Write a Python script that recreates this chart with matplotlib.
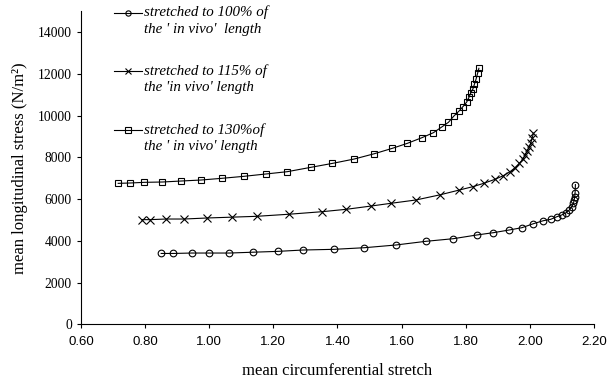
import matplotlib
matplotlib.use("Agg")
import matplotlib.pyplot as plt
from matplotlib.lines import Line2D

# ---- data ----
x100 = [0.85, 0.888, 0.945, 1.000, 1.063, 1.137, 1.214, 1.293, 1.389, 1.484, 1.582, 1.676,
        1.761, 1.834, 1.886, 1.935, 1.975, 2.011, 2.042, 2.065, 2.084, 2.099, 2.113,
        2.123, 2.131, 2.136, 2.138, 2.140, 2.141, 2.142]
y100 = [3400, 3400, 3420, 3420, 3420, 3460, 3500, 3565, 3598, 3675, 3805, 3982,
        4107, 4284, 4395, 4523, 4634, 4826, 4970, 5036, 5160, 5242, 5353,
        5482, 5641, 5802, 5961, 6120, 6312, 6700]

x115 = [0.789, 0.815, 0.865, 0.922, 0.994, 1.072, 1.148, 1.249, 1.351, 1.427, 1.505, 1.566,
        1.644, 1.720, 1.780, 1.822, 1.856, 1.891, 1.917, 1.938, 1.954, 1.967, 1.978,
        1.985, 1.992, 1.998, 2.003, 2.007, 2.011]
y115 = [5020, 5020, 5050, 5050, 5100, 5140, 5180, 5280, 5400, 5515, 5673, 5802,
        5961, 6210, 6440, 6600, 6760, 6952, 7126, 7318, 7510, 7716, 7908,
        8117, 8309, 8514, 8706, 8917, 9157]

x130 = [0.716, 0.753, 0.797, 0.854, 0.912, 0.974, 1.039, 1.108, 1.176, 1.244, 1.316, 1.384,
        1.452, 1.515, 1.571, 1.618, 1.663, 1.699, 1.725, 1.746, 1.763, 1.779, 1.791,
        1.803, 1.810, 1.816, 1.822, 1.827, 1.832, 1.837, 1.841]
y130 = [6760, 6776, 6808, 6824, 6871, 6919, 7000, 7096, 7207, 7320, 7525, 7716,
        7925, 8180, 8438, 8678, 8946, 9186, 9459, 9684, 9986, 10225, 10432,
        10657, 10882, 11107, 11267, 11507, 11747, 12034, 12274]

labels = ["stretched to 100% of\nthe ' in vivo'  length",
          "stretched to 115% of\nthe 'in vivo' length",
          "stretched to 130%of\nthe ' in vivo' length"]
markers = ["o", "x", "s"]

xticks = [0.60, 0.80, 1.00, 1.20, 1.40, 1.60, 1.80, 2.00, 2.20]
yticks = [0, 2000, 4000, 6000, 8000, 10000, 12000, 14000]

# ---- figure ----
W, H = 609, 382
fig = plt.figure(figsize=(W / 100, H / 100), dpi=100)
ax = fig.add_axes([81 / W, 1 - 324.4 / H, (594 - 81) / W, (324.4 - 11.4) / H])

serif = "Liberation Serif"
sans = "Liberation Sans"

series = [(x100, y100), (x115, y115), (x130, y130)]
msizes = [4.8, 5.8, 4.6]
for (xs, ys), m, ms in zip(series, markers, msizes):
    ax.plot(xs, ys, color="black", lw=0.8, marker=m, ms=ms, mfc="none",
            mec="black", mew=0.8)

ax.set_xlim(0.60, 2.20)
ax.set_ylim(0, 15000)
ax.set_xticks(xticks)
ax.set_xticklabels([f"{v:.2f}" for v in xticks], fontfamily=sans, fontsize=9.5)
ax.set_yticks(yticks)
ax.set_yticklabels([str(v) for v in yticks], fontfamily=serif, fontsize=9.8)
ax.tick_params(axis="both", direction="out", length=3, width=0.8, color="black")
ax.tick_params(axis="x", pad=5)
ax.spines["top"].set_visible(False)
ax.spines["right"].set_visible(False)
for s in ["left", "bottom"]:
    ax.spines[s].set_linewidth(0.8)

ax.set_xlabel("mean circumferential stretch", fontfamily=serif, fontsize=12, labelpad=11)
ax.set_ylabel("mean longitudinal stress (N/m²)", fontfamily=serif, fontsize=12, labelpad=7)

# ---- legend (manual) ----
rows = [12.7, 71, 130]
lms = [3.8, 5.0, 3.8]
for lab, m, ms, yy in zip(labels, markers, lms, rows):
    yf = 1 - yy / H
    ln = Line2D([114 / W, 142 / W], [yf, yf], transform=fig.transFigure,
                color="black", lw=0.8)
    fig.add_artist(ln)
    mk = Line2D([128 / W], [yf], transform=fig.transFigure, marker=m, ms=ms,
                mfc="none", mec="black", mew=0.8, lw=0)
    fig.add_artist(mk)
    fig.text(144 / W, yf + 7 / H, lab, fontfamily=serif, style="italic", fontsize=10.8,
             va="top", ha="left", linespacing=1.35,
             transform=fig.transFigure)

fig.savefig("out.png", dpi=100)
